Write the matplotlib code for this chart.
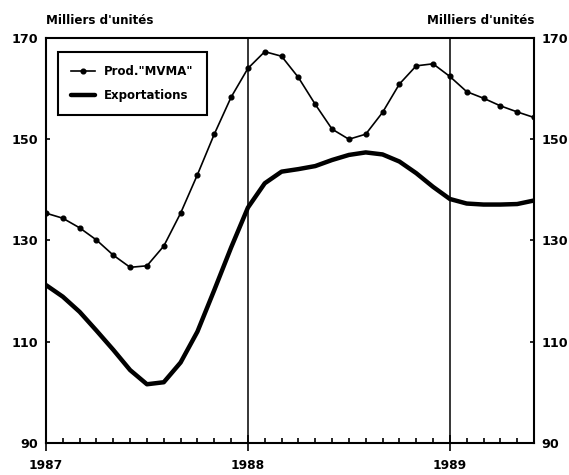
import matplotlib.pyplot as plt
import numpy as np

# months since Jan 1987
months = np.arange(30)
prod_mvma = [135.4, 134.4, 132.5, 130.1, 127.1, 124.7, 125.0, 128.9, 135.4, 143.0,
             151.0, 158.3, 164.0, 167.3, 166.4, 162.2, 156.9, 152.0, 150.0, 151.0,
             155.3, 160.9, 164.5, 164.9, 162.4, 159.4, 158.1, 156.6, 155.4, 154.3]
exportations = [121.2, 118.9, 115.9, 112.2, 108.4, 104.4, 101.6, 102.0, 105.9, 112.0,
                120.2, 128.6, 136.5, 141.3, 143.6, 144.1, 144.7, 145.9, 146.9, 147.4,
                147.0, 145.6, 143.3, 140.6, 138.2, 137.3, 137.1, 137.1, 137.2, 137.9]
year_pos = [0, 12, 24]
year_labels = ['1987', '1988', '1989']
y_ticks = [90, 110, 130, 150, 170]

plt.rcParams['font.family'] = ['DejaVu Sans']
plt.rcParams['font.weight'] = 'bold'

fig = plt.figure(figsize=(5.69, 4.75), dpi=100)
ax = fig.add_axes([0.0808, 0.0674, 0.8577, 0.8526])

ax.plot(months, prod_mvma, color='black', lw=1.2, marker='o', ms=3.4,
        label='Prod."MVMA"')
ax.plot(months, exportations, color='black', lw=3.2, solid_joinstyle='round',
        solid_capstyle='round', label='Exportations')

for x in year_pos[1:]:
    ax.axvline(x, color='black', lw=1.1)

ax.set_xlim(0, 29)
ax.set_ylim(90, 170)
ax.set_yticks(y_ticks)
ax.set_xticks(year_pos)
ax.set_xticklabels(year_labels)
ax.set_xticks(months, minor=True)

ax.tick_params(axis='y', which='both', direction='in', length=3, width=1.2,
               left=True, right=True, labelleft=True, labelright=True,
               labelsize=9.2, pad=5.5)
ax.tick_params(axis='x', which='major', direction='inout', length=12, width=1.2,
               labelsize=8.8, pad=5.5)
ax.tick_params(axis='x', which='minor', direction='in', length=3.5, width=1.2)
for lab in ax.get_xticklabels() + ax.get_yticklabels():
    lab.set_fontweight('bold')

for sp in ax.spines.values():
    sp.set_linewidth(1.5)

fig.text(0.081, 0.943, "Milliers d'unités", fontsize=8.6, fontweight='bold',
         ha='left', va='bottom')
fig.text(0.939, 0.943, "Milliers d'unités", fontsize=8.6, fontweight='bold',
         ha='right', va='bottom')

leg = ax.legend(loc='upper left', bbox_to_anchor=(0.025, 0.965), fancybox=False,
                edgecolor='black', framealpha=1, fontsize=8.5, borderpad=1.1,
                labelspacing=0.9, handlelength=2.0, handletextpad=0.8,
                borderaxespad=0)
leg.get_frame().set_linewidth(1.5)
for t in leg.get_texts():
    t.set_fontweight('bold')

fig.savefig('out.png', dpi=100)
